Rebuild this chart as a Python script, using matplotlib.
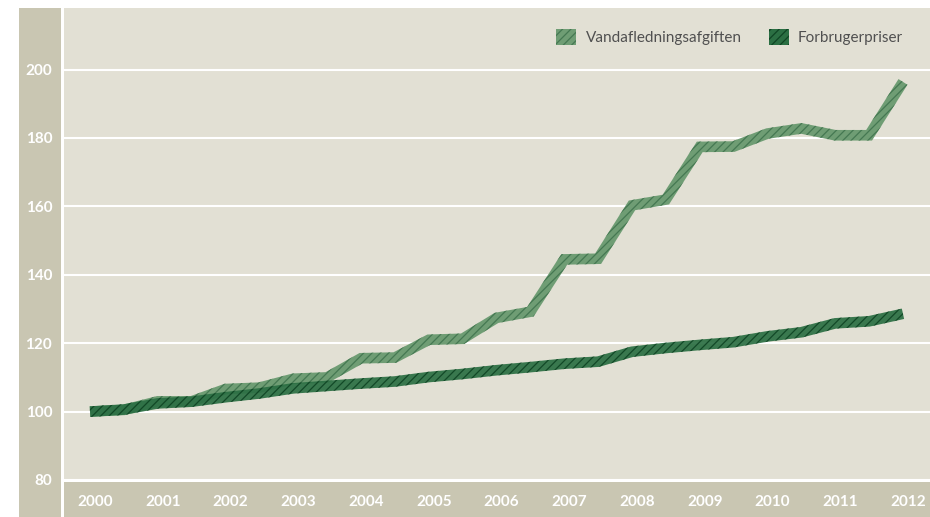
import numpy as np
import matplotlib
matplotlib.use("Agg")
import matplotlib.pyplot as plt
from matplotlib.patches import Polygon, Patch, Rectangle
from matplotlib.transforms import ScaledTranslation

plt.rcParams['font.family'] = ['Lato', 'DejaVu Sans']
plt.rcParams['hatch.linewidth'] = 0.9

# half-year index values, 2000 = 100
periods = np.arange(2000, 2012.01, 0.5)
afgift = [100, 100.5, 103, 103, 106.6, 107, 109.6, 110, 115.6, 115.8,
          121, 121.3, 127.4, 129.2, 144.5, 144.7, 160.3, 162, 177.4, 177.5,
          181.3, 182.8, 180.8, 180.8, 196.4]
forbrug = [100, 100.6, 102.4, 102.9, 104.2, 105.3, 106.8, 107.5, 108.2, 108.8,
           110.1, 111, 112.1, 113.0, 114.0, 114.6, 117.5, 118.6, 119.5, 120.3,
           122.0, 123.2, 125.8, 126.4, 128.6]
years = list(range(2000, 2013))
yticks = [80, 100, 120, 140, 160, 180, 200]
names = ["Vandafledningsafgiften", "Forbrugerpriser"]

light, light_hatch = "#6f9d74", "#457852"
dark, dark_hatch = "#2b6f43", "#0f4524"
bg = "#e2e0d4"
band = "#c9c6b2"

W, H = 930, 517
fig = plt.figure(figsize=(W / 100, H / 100), dpi=100)
fig.patch.set_facecolor("white")
ax = fig.add_axes([64 / W, (H - 480) / H, (W - 64) / W, (480 - 8) / H])
ax.set_facecolor(bg)
ax.set_xlim(1999.616, 2012.399)
ax.set_ylim(80, 80 + 472 / 3.42)

# grey bands behind the tick labels
fig.add_artist(Rectangle((19 / W, 0), 42 / W, (H - 8) / H, transform=fig.transFigure,
                         facecolor=band, edgecolor="none", zorder=0))
fig.add_artist(Rectangle((64 / W, 0), (W - 64) / W, (H - 482) / H, transform=fig.transFigure,
                         facecolor=band, edgecolor="none", zorder=0))

for s in ax.spines.values():
    s.set_visible(False)
ax.set_yticks(yticks)
ax.set_yticklabels([str(v) for v in yticks])
ax.set_xticks(years)
ax.set_xticklabels([str(v) for v in years])
ax.tick_params(length=0, colors="white", labelsize=11)
ax.tick_params(axis="y", pad=8.5)
ax.tick_params(axis="x", pad=11)
for lab in ax.get_xticklabels() + ax.get_yticklabels():
    lab.set_fontweight("bold")
for lab in ax.get_xticklabels():
    lab.set_transform(lab.get_transform() + ScaledTranslation(5 / 100, 0, fig.dpi_scale_trans))
ax.grid(axis="y", color="white", lw=1.5)
ax.set_axisbelow(True)


def ribbon(ax, x, y, half_px, **kw):
    # thick stroked line as a filled outline so it can carry a hatch
    pts = ax.transData.transform(np.column_stack([x, y]))
    d = np.diff(pts, axis=0)
    d /= np.hypot(d[:, 0], d[:, 1])[:, None]
    n = np.column_stack([-d[:, 1], d[:, 0]])
    off = np.empty_like(pts)
    off[0] = n[0] * half_px
    off[-1] = n[-1] * half_px
    m = n[:-1] + n[1:]
    m /= np.hypot(m[:, 0], m[:, 1])[:, None]
    c = np.sum(m * n[1:], axis=1)
    off[1:-1] = m * (half_px / c)[:, None]
    outline = np.vstack([pts + off, (pts - off)[::-1]])
    verts = ax.transData.inverted().transform(outline)
    poly = Polygon(verts, closed=True, **kw)
    ax.add_patch(poly)
    return poly


ribbon(ax, periods, afgift, 5.3, facecolor=light, edgecolor=light_hatch,
       hatch="////", lw=0, zorder=3)
ribbon(ax, periods, forbrug, 5.3, facecolor=dark, edgecolor=dark_hatch,
       hatch="////", lw=0, zorder=4, alpha=0.92)

handles = [Patch(facecolor=light, edgecolor=light_hatch, hatch="////", lw=0),
           Patch(facecolor=dark, edgecolor=dark_hatch, hatch="////", lw=0)]
leg = ax.legend(handles, names, ncol=2, loc="upper right",
                bbox_to_anchor=(0.969, 0.956), frameon=False, fontsize=11,
                handlelength=1.3, handleheight=1.3, handletextpad=0.6,
                columnspacing=1.8, borderaxespad=0, borderpad=0)
for t in leg.get_texts():
    t.set_color("#505050")

fig.savefig("out.png", dpi=100)
